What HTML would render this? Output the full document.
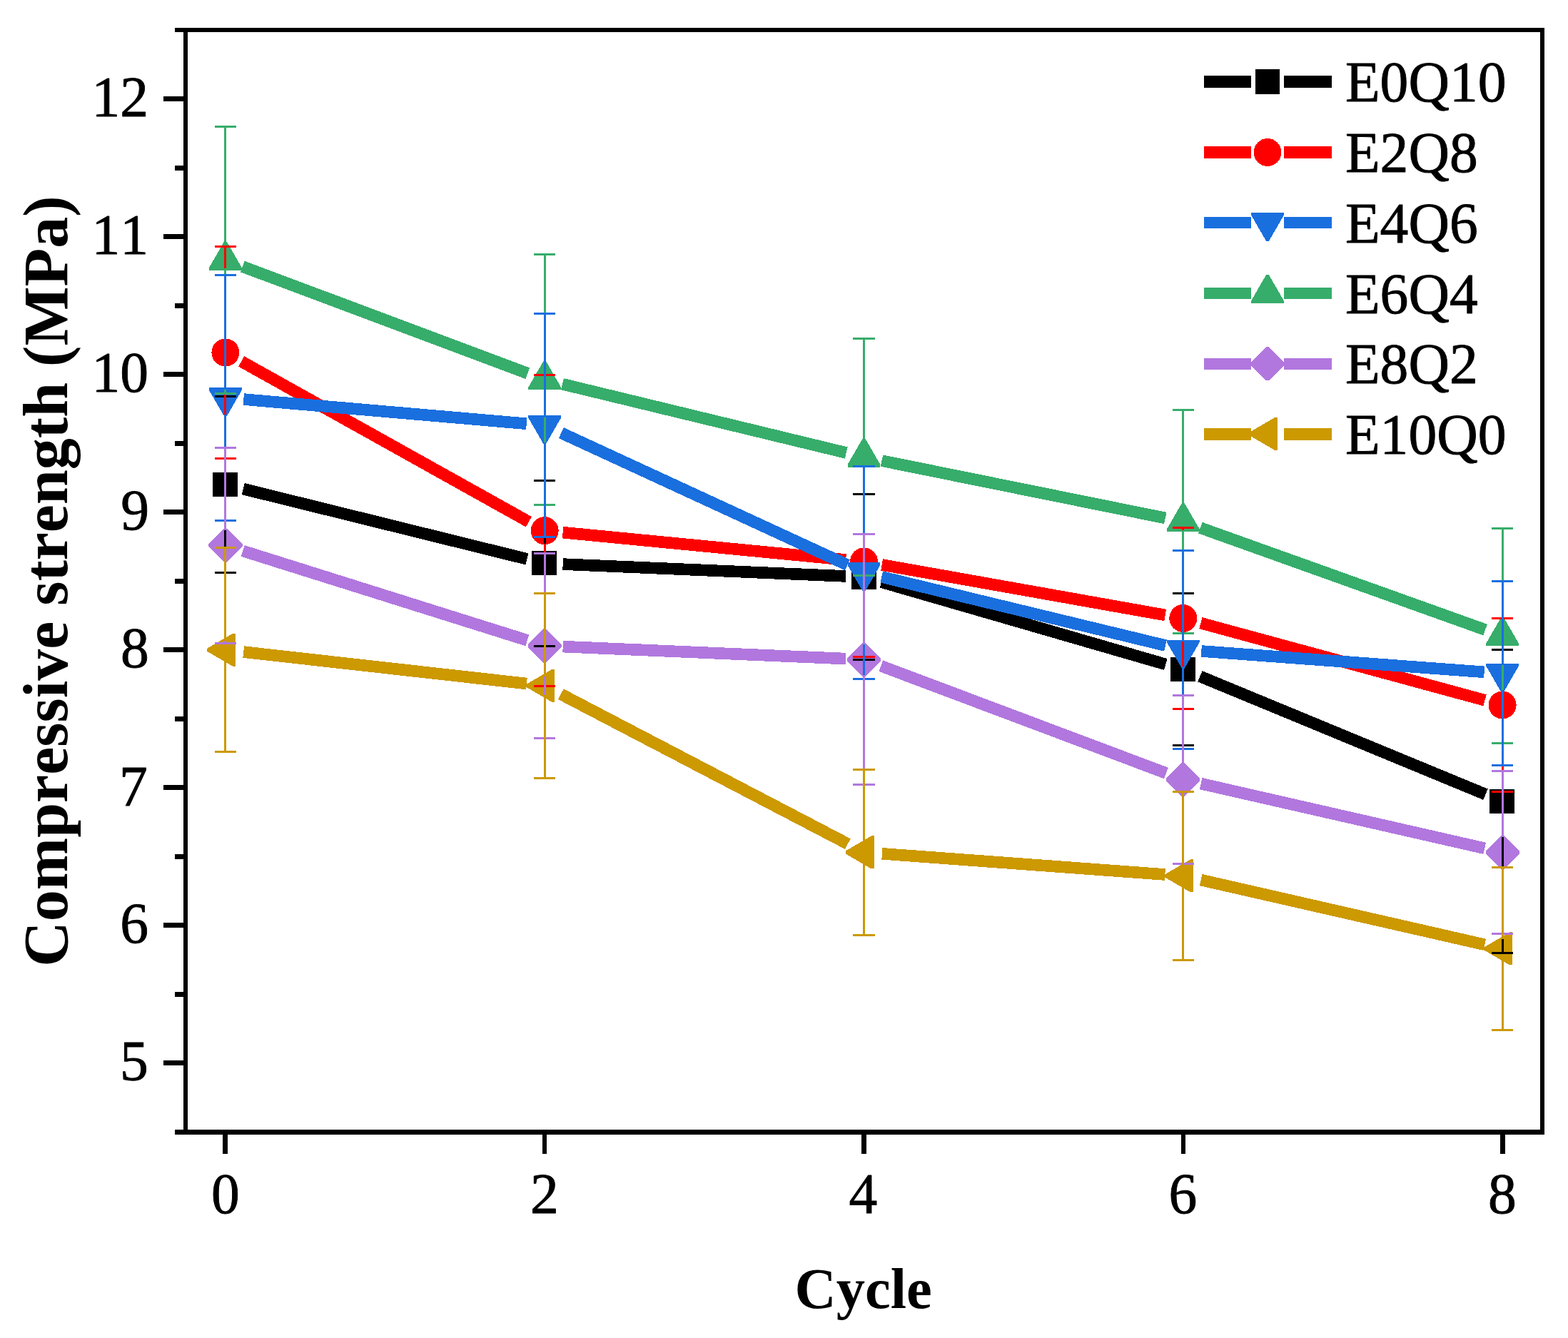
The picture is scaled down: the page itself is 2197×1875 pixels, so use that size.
<!DOCTYPE html>
<html lang="en"><head><meta charset="utf-8"><title>Compressive strength vs cycle</title>
<style>html,body{margin:0;padding:0;background:#fff}svg{display:block}text{font-family:"Liberation Serif","Times New Roman",Times,serif;fill:#000;font-kerning:none;font-variant-ligatures:none}.tk{font-size:80px}.lg{font-size:80px}.b{font-weight:bold}</style></head><body>
<svg width="2197" height="1875" viewBox="0 0 2197 1875">
<rect width="2197" height="1875" fill="#fff"/>
<g id="series" shape-rendering="crispEdges">
<g id="s-black">
<line x1="340.66" y1="685.07" x2="738.44" y2="783.38" stroke="#000000" stroke-width="16.6"/>
<line x1="788.68" y1="790.59" x2="1185.02" y2="807.46" stroke="#000000" stroke-width="16.6"/>
<line x1="1234.99" y1="815.64" x2="1633.31" y2="930.96" stroke="#000000" stroke-width="16.6"/>
<line x1="1681.37" y1="947.79" x2="2081.53" y2="1113.21" stroke="#000000" stroke-width="16.6"/>
<rect x="298" y="662" width="35" height="34" fill="#000000"/>
<rect x="745" y="772" width="35" height="34" fill="#000000"/>
<rect x="1193" y="792" width="35" height="34" fill="#000000"/>
<rect x="1640" y="921" width="35" height="34" fill="#000000"/>
<rect x="2087" y="1106" width="35" height="34" fill="#000000"/>
</g>
<g id="s-red">
<line x1="338.17" y1="506.43" x2="740.93" y2="731.27" stroke="#FF0000" stroke-width="16.6"/>
<line x1="788.58" y1="746.15" x2="1185.12" y2="784.5" stroke="#FF0000" stroke-width="16.6"/>
<line x1="1235.61" y1="791.41" x2="1632.69" y2="861.99" stroke="#FF0000" stroke-width="16.6"/>
<line x1="1682.41" y1="873.14" x2="2080.49" y2="981.31" stroke="#FF0000" stroke-width="16.6"/>
<circle cx="315.9" cy="494" r="19.5" fill="#FF0000"/>
<circle cx="763.2" cy="743.7" r="19.5" fill="#FF0000"/>
<circle cx="1210.5" cy="786.95" r="19.5" fill="#FF0000"/>
<circle cx="1657.8" cy="866.45" r="19.5" fill="#FF0000"/>
<circle cx="2105.1" cy="988" r="19.5" fill="#FF0000"/>
</g>
<g id="s-blue">
<line x1="341.31" y1="559.55" x2="737.79" y2="593.8" stroke="#1A6FDF" stroke-width="16.6"/>
<line x1="786.35" y1="606.68" x2="1187.35" y2="791.72" stroke="#1A6FDF" stroke-width="16.6"/>
<line x1="1235.29" y1="808.39" x2="1633.01" y2="904.56" stroke="#1A6FDF" stroke-width="16.6"/>
<line x1="1683.23" y1="912.44" x2="2079.67" y2="941.86" stroke="#1A6FDF" stroke-width="16.6"/>
<polygon points="314.05,583.35 317.75,583.35 338.7,547.05 338.7,543.35 293.1,543.35 293.1,547.05" fill="#1A6FDF"/>
<polygon points="761.35,622 765.05,622 786,585.7 786,582 740.4,582 740.4,585.7" fill="#1A6FDF"/>
<polygon points="1208.65,828.4 1212.35,828.4 1233.3,792.1 1233.3,788.4 1187.7,788.4 1187.7,792.1" fill="#1A6FDF"/>
<polygon points="1655.95,936.55 1659.65,936.55 1680.6,900.25 1680.6,896.55 1635,896.55 1635,900.25" fill="#1A6FDF"/>
<polygon points="2103.25,969.75 2106.95,969.75 2127.9,933.45 2127.9,929.75 2082.3,929.75 2082.3,933.45" fill="#1A6FDF"/>
</g>
<g id="s-green">
<line x1="339.78" y1="373.5" x2="739.32" y2="523.25" stroke="#37AD6B" stroke-width="16.6"/>
<line x1="787.98" y1="538.2" x2="1185.72" y2="634.55" stroke="#37AD6B" stroke-width="16.6"/>
<line x1="1235.49" y1="645.61" x2="1632.81" y2="725.99" stroke="#37AD6B" stroke-width="16.6"/>
<line x1="1681.81" y1="739.64" x2="2081.09" y2="882.56" stroke="#37AD6B" stroke-width="16.6"/>
<polygon points="314.05,338.55 317.75,338.55 338.7,374.85 338.7,378.55 293.1,378.55 293.1,374.85" fill="#37AD6B"/>
<polygon points="761.35,506.2 765.05,506.2 786,542.5 786,546.2 740.4,546.2 740.4,542.5" fill="#37AD6B"/>
<polygon points="1208.65,614.55 1212.35,614.55 1233.3,650.85 1233.3,654.55 1187.7,654.55 1187.7,650.85" fill="#37AD6B"/>
<polygon points="1655.95,705.05 1659.65,705.05 1680.6,741.35 1680.6,745.05 1635,745.05 1635,741.35" fill="#37AD6B"/>
<polygon points="2103.25,865.15 2106.95,865.15 2127.9,901.45 2127.9,905.15 2082.3,905.15 2082.3,901.45" fill="#37AD6B"/>
</g>
<g id="s-purple">
<line x1="340.23" y1="772" x2="738.87" y2="897.35" stroke="#B177DE" stroke-width="16.6"/>
<line x1="788.68" y1="906.09" x2="1185.02" y2="923.11" stroke="#B177DE" stroke-width="16.6"/>
<line x1="1234.37" y1="933.18" x2="1633.93" y2="1083.47" stroke="#B177DE" stroke-width="16.6"/>
<line x1="1682.66" y1="1098.12" x2="2080.24" y2="1188.83" stroke="#B177DE" stroke-width="16.6"/>
<polygon points="314.05,740.75 317.75,740.75 339.5,762.5 339.5,766.2 317.75,787.95 314.05,787.95 292.3,766.2 292.3,762.5" fill="#B177DE"/>
<polygon points="761.35,881.4 765.05,881.4 786.8,903.15 786.8,906.85 765.05,928.6 761.35,928.6 739.6,906.85 739.6,903.15" fill="#B177DE"/>
<polygon points="1208.65,900.6 1212.35,900.6 1234.1,922.35 1234.1,926.05 1212.35,947.8 1208.65,947.8 1186.9,926.05 1186.9,922.35" fill="#B177DE"/>
<polygon points="1655.95,1068.85 1659.65,1068.85 1681.4,1090.6 1681.4,1094.3 1659.65,1116.05 1655.95,1116.05 1634.2,1094.3 1634.2,1090.6" fill="#B177DE"/>
<polygon points="2103.25,1170.9 2106.95,1170.9 2128.7,1192.65 2128.7,1196.35 2106.95,1218.1 2103.25,1218.1 2081.5,1196.35 2081.5,1192.65" fill="#B177DE"/>
</g>
<g id="s-gold">
<line x1="341.24" y1="913.59" x2="737.86" y2="958.06" stroke="#CC9900" stroke-width="16.6"/>
<line x1="785.8" y1="972.7" x2="1187.9" y2="1182.65" stroke="#CC9900" stroke-width="16.6"/>
<line x1="1235.93" y1="1196.32" x2="1632.37" y2="1225.53" stroke="#CC9900" stroke-width="16.6"/>
<line x1="1682.66" y1="1233.07" x2="2080.24" y2="1323.78" stroke="#CC9900" stroke-width="16.6"/>
<polygon points="289.9,908.9 289.9,912.6 326.2,933.75 329.9,933.75 329.9,887.75 326.2,887.75" fill="#CC9900"/>
<polygon points="737.2,959.05 737.2,962.75 773.5,983.9 777.2,983.9 777.2,937.9 773.5,937.9" fill="#CC9900"/>
<polygon points="1184.5,1192.6 1184.5,1196.3 1220.8,1217.45 1224.5,1217.45 1224.5,1171.45 1220.8,1171.45" fill="#CC9900"/>
<polygon points="1631.8,1225.55 1631.8,1229.25 1668.1,1250.4 1671.8,1250.4 1671.8,1204.4 1668.1,1204.4" fill="#CC9900"/>
<polygon points="2079.1,1327.6 2079.1,1331.3 2115.4,1352.45 2119.1,1352.45 2119.1,1306.45 2115.4,1306.45" fill="#CC9900"/>
</g>
</g>
<g id="errors" shape-rendering="crispEdges">
<g id="e-black" fill="#000000">
<rect x="314" y="554" width="3" height="107.95"/>
<rect x="314" y="695.95" width="3" height="108.05"/>
<rect x="301" y="554" width="30" height="3"/>
<rect x="301" y="801" width="30" height="3"/>
<rect x="762" y="672" width="3" height="100.5"/>
<rect x="762" y="806.5" width="3" height="100.5"/>
<rect x="748" y="672" width="30" height="3"/>
<rect x="748" y="904" width="30" height="3"/>
<rect x="1209" y="691" width="3" height="100.55"/>
<rect x="1209" y="825.55" width="3" height="100.45"/>
<rect x="1195" y="691" width="31" height="3"/>
<rect x="1195" y="923" width="31" height="3"/>
<rect x="1656" y="830" width="3" height="91.05"/>
<rect x="1656" y="955.05" width="3" height="90.95"/>
<rect x="1643" y="830" width="30" height="3"/>
<rect x="1643" y="1043" width="30" height="3"/>
<rect x="2104" y="909" width="3" height="196.95"/>
<rect x="2104" y="1139.95" width="3" height="197.05"/>
<rect x="2090" y="909" width="30" height="3"/>
<rect x="2090" y="1334" width="30" height="3"/>
</g>
<g id="e-red" fill="#FF0000">
<rect x="314" y="344" width="3" height="131.5"/>
<rect x="314" y="512.5" width="3" height="131.5"/>
<rect x="301" y="344" width="30" height="3"/>
<rect x="301" y="641" width="30" height="3"/>
<rect x="762" y="524" width="3" height="201.2"/>
<rect x="762" y="762.2" width="3" height="200.8"/>
<rect x="748" y="524" width="30" height="3"/>
<rect x="748" y="960" width="30" height="3"/>
<rect x="1209" y="652" width="3" height="116.45"/>
<rect x="1209" y="805.45" width="3" height="116.55"/>
<rect x="1195" y="652" width="31" height="3"/>
<rect x="1195" y="919" width="31" height="3"/>
<rect x="1656" y="738" width="3" height="109.95"/>
<rect x="1656" y="884.95" width="3" height="110.05"/>
<rect x="1643" y="738" width="30" height="3"/>
<rect x="1643" y="992" width="30" height="3"/>
<rect x="2104" y="865" width="3" height="104.5"/>
<rect x="2104" y="1006.5" width="3" height="104.5"/>
<rect x="2090" y="865" width="30" height="3"/>
<rect x="2090" y="1108" width="30" height="3"/>
</g>
<g id="e-green" fill="#37AD6B">
<rect x="314" y="176" width="3" height="164.85"/>
<rect x="314" y="376.05" width="3" height="176.95"/>
<rect x="301" y="176" width="30" height="3"/>
<rect x="301" y="550" width="30" height="3"/>
<rect x="762" y="355" width="3" height="153.5"/>
<rect x="762" y="543.7" width="3" height="165.3"/>
<rect x="748" y="355" width="30" height="3"/>
<rect x="748" y="706" width="30" height="3"/>
<rect x="1209" y="473" width="3" height="143.85"/>
<rect x="1209" y="652.05" width="3" height="155.95"/>
<rect x="1195" y="473" width="31" height="3"/>
<rect x="1195" y="805" width="31" height="3"/>
<rect x="1656" y="573" width="3" height="134.35"/>
<rect x="1656" y="742.55" width="3" height="146.45"/>
<rect x="1643" y="573" width="30" height="3"/>
<rect x="1643" y="886" width="30" height="3"/>
<rect x="2104" y="739" width="3" height="128.45"/>
<rect x="2104" y="902.65" width="3" height="140.35"/>
<rect x="2090" y="739" width="30" height="3"/>
<rect x="2090" y="1040" width="30" height="3"/>
</g>
<g id="e-blue" fill="#1A6FDF">
<rect x="314" y="384" width="3" height="161.85"/>
<rect x="314" y="581.05" width="3" height="149.95"/>
<rect x="301" y="384" width="30" height="3"/>
<rect x="301" y="728" width="30" height="3"/>
<rect x="762" y="438" width="3" height="146.5"/>
<rect x="762" y="619.7" width="3" height="134.3"/>
<rect x="748" y="438" width="30" height="3"/>
<rect x="748" y="751" width="30" height="3"/>
<rect x="1209" y="652" width="3" height="138.9"/>
<rect x="1209" y="826.1" width="3" height="126.9"/>
<rect x="1195" y="652" width="31" height="3"/>
<rect x="1195" y="950" width="31" height="3"/>
<rect x="1656" y="770" width="3" height="129.05"/>
<rect x="1656" y="934.25" width="3" height="116.75"/>
<rect x="1643" y="770" width="30" height="3"/>
<rect x="1643" y="1048" width="30" height="3"/>
<rect x="2104" y="813" width="3" height="119.25"/>
<rect x="2104" y="967.45" width="3" height="106.55"/>
<rect x="2090" y="813" width="30" height="3"/>
<rect x="2090" y="1071" width="30" height="3"/>
</g>
<g id="e-purple" fill="#B177DE">
<rect x="314" y="626" width="3" height="116.85"/>
<rect x="314" y="785.85" width="3" height="117.15"/>
<rect x="301" y="626" width="30" height="3"/>
<rect x="301" y="900" width="30" height="3"/>
<rect x="762" y="774" width="3" height="109.5"/>
<rect x="762" y="926.5" width="3" height="109.5"/>
<rect x="748" y="774" width="30" height="3"/>
<rect x="748" y="1033" width="30" height="3"/>
<rect x="1209" y="747" width="3" height="155.7"/>
<rect x="1209" y="945.7" width="3" height="155.3"/>
<rect x="1195" y="747" width="31" height="3"/>
<rect x="1195" y="1098" width="31" height="3"/>
<rect x="1656" y="973" width="3" height="97.95"/>
<rect x="1656" y="1113.95" width="3" height="98.05"/>
<rect x="1643" y="973" width="30" height="3"/>
<rect x="1643" y="1209" width="30" height="3"/>
<rect x="2104" y="1079" width="3" height="94"/>
<rect x="2104" y="1216" width="3" height="94"/>
<rect x="2090" y="1079" width="30" height="3"/>
<rect x="2090" y="1307" width="30" height="3"/>
</g>
<g id="e-gold" fill="#CC9900">
<rect x="314" y="766" width="3" height="131.75"/>
<rect x="314" y="923.75" width="3" height="131.25"/>
<rect x="301" y="766" width="30" height="3"/>
<rect x="301" y="1052" width="30" height="3"/>
<rect x="762" y="830" width="3" height="117.9"/>
<rect x="762" y="973.9" width="3" height="118.1"/>
<rect x="748" y="830" width="30" height="3"/>
<rect x="748" y="1089" width="30" height="3"/>
<rect x="1209" y="1077" width="3" height="104.45"/>
<rect x="1209" y="1207.45" width="3" height="104.55"/>
<rect x="1195" y="1077" width="31" height="3"/>
<rect x="1195" y="1309" width="31" height="3"/>
<rect x="1656" y="1108" width="3" height="106.4"/>
<rect x="1656" y="1240.4" width="3" height="106.6"/>
<rect x="1643" y="1108" width="30" height="3"/>
<rect x="1643" y="1344" width="30" height="3"/>
<rect x="2104" y="1214" width="3" height="102.45"/>
<rect x="2104" y="1342.45" width="3" height="102.55"/>
<rect x="2090" y="1214" width="30" height="3"/>
<rect x="2090" y="1442" width="30" height="3"/>
</g>
</g>
<g id="axes" fill="#000" shape-rendering="crispEdges">
<rect x="245" y="39" width="1919" height="6"/>
<rect x="245" y="1583" width="1919" height="7"/>
<rect x="257" y="39" width="6" height="1551"/>
<rect x="2158" y="39" width="6" height="1551"/>
<rect x="229" y="1486" width="30" height="7"/>
<rect x="229" y="1293" width="30" height="7"/>
<rect x="229" y="1100" width="30" height="7"/>
<rect x="229" y="907" width="30" height="7"/>
<rect x="229" y="714" width="30" height="7"/>
<rect x="229" y="521" width="30" height="7"/>
<rect x="229" y="328" width="30" height="7"/>
<rect x="229" y="135" width="30" height="7"/>
<rect x="245" y="1390" width="14" height="7"/>
<rect x="245" y="1197" width="14" height="7"/>
<rect x="245" y="1004" width="14" height="7"/>
<rect x="245" y="811" width="14" height="7"/>
<rect x="245" y="618" width="14" height="7"/>
<rect x="245" y="425" width="14" height="7"/>
<rect x="245" y="232" width="14" height="7"/>
<rect x="312" y="1586" width="7" height="31"/>
<rect x="760" y="1586" width="6" height="31"/>
<rect x="1207" y="1586" width="7" height="31"/>
<rect x="1655" y="1586" width="6" height="31"/>
<rect x="2102" y="1586" width="7" height="31"/>
</g>
<g id="ylabels">
<text transform="translate(207.9,1514) scale(1,1.012)" font-size="79.6" text-anchor="end" stroke="#000" stroke-width="0.9" stroke-linejoin="round">5</text>
<text transform="translate(208,1321.06) scale(1,1.012)" font-size="79.6" text-anchor="end" stroke="#000" stroke-width="0.9" stroke-linejoin="round">6</text>
<text transform="translate(206.86,1129.04) scale(1,1.012)" font-size="79.6" text-anchor="end" stroke="#000" stroke-width="0.9" stroke-linejoin="round">7</text>
<text transform="translate(208.88,935.06) scale(1,1.012)" font-size="79.6" text-anchor="end" stroke="#000" stroke-width="0.9" stroke-linejoin="round">8</text>
<text transform="translate(209,742.06) scale(1,1.012)" font-size="79.6" text-anchor="end" stroke="#000" stroke-width="0.9" stroke-linejoin="round">9</text>
<text transform="translate(208,548.96) scale(1,1.012)" font-size="79.6" text-anchor="end" stroke="#000" stroke-width="0.9" stroke-linejoin="round">10</text>
<text transform="translate(208,356.1) scale(1,1.012)" font-size="79.6" text-anchor="end" stroke="#000" stroke-width="0.9" stroke-linejoin="round">11</text>
<text transform="translate(208,163) scale(1,1.012)" font-size="79.6" text-anchor="end" stroke="#000" stroke-width="0.9" stroke-linejoin="round">12</text>
</g>
<g id="xlabels">
<text transform="translate(316.02,1699.92) scale(1,1.012)" font-size="79.6" text-anchor="middle" stroke="#000" stroke-width="0.9" stroke-linejoin="round">0</text>
<text transform="translate(762.94,1699.92) scale(1,1.012)" font-size="79.6" text-anchor="middle" stroke="#000" stroke-width="0.9" stroke-linejoin="round">2</text>
<text transform="translate(1209.48,1700.04) scale(1,1.012)" font-size="79.6" text-anchor="middle" stroke="#000" stroke-width="0.9" stroke-linejoin="round">4</text>
<text transform="translate(1657.5,1699.92) scale(1,1.012)" font-size="79.6" text-anchor="middle" stroke="#000" stroke-width="0.9" stroke-linejoin="round">6</text>
<text transform="translate(2104.98,1699.92) scale(1,1.012)" font-size="79.6" text-anchor="middle" stroke="#000" stroke-width="0.9" stroke-linejoin="round">8</text>
</g>
<text id="xtitle" class="b" x="1209.7" y="1833" font-size="80.5" text-anchor="middle">Cycle</text>
<text id="ytitle" class="b" font-size="88" text-anchor="middle" transform="translate(94,814.6) rotate(-90)">Compressive strength (MPa)</text>
<g id="legend">
<g shape-rendering="crispEdges">
<rect x="1687" y="106" width="66" height="17" fill="#000000"/>
<rect x="1799" y="106" width="67" height="17" fill="#000000"/>
<rect x="1759" y="97" width="34" height="35" fill="#000000"/>
</g>
<text transform="translate(1885,142.03) scale(1,1.012)" font-size="79.6" text-anchor="start" stroke="#000" stroke-width="0.9" stroke-linejoin="round">E0Q10</text>
<g shape-rendering="crispEdges">
<rect x="1687" y="205" width="66" height="17" fill="#FF0000"/>
<rect x="1799" y="205" width="67" height="17" fill="#FF0000"/>
<circle cx="1776" cy="213.5" r="19.5" fill="#FF0000"/>
</g>
<text transform="translate(1885,240.86) scale(1,1.012)" font-size="79.6" text-anchor="start" stroke="#000" stroke-width="0.9" stroke-linejoin="round">E2Q8</text>
<g shape-rendering="crispEdges">
<rect x="1687" y="304" width="66" height="16" fill="#1A6FDF"/>
<rect x="1799" y="304" width="67" height="16" fill="#1A6FDF"/>
<polygon points="1774.15,338 1777.85,338 1798.8,301.7 1798.8,298 1753.2,298 1753.2,301.7" fill="#1A6FDF"/>
</g>
<text transform="translate(1885,339.69) scale(1,1.012)" font-size="79.6" text-anchor="start" stroke="#000" stroke-width="0.9" stroke-linejoin="round">E4Q6</text>
<g shape-rendering="crispEdges">
<rect x="1687" y="403" width="66" height="16" fill="#37AD6B"/>
<rect x="1799" y="403" width="67" height="16" fill="#37AD6B"/>
<polygon points="1774.15,385 1777.85,385 1798.8,421.3 1798.8,425 1753.2,425 1753.2,421.3" fill="#37AD6B"/>
</g>
<text transform="translate(1885,438.52) scale(1,1.012)" font-size="79.6" text-anchor="start" stroke="#000" stroke-width="0.9" stroke-linejoin="round">E6Q4</text>
<g shape-rendering="crispEdges">
<rect x="1687" y="502" width="66" height="16" fill="#B177DE"/>
<rect x="1799" y="502" width="67" height="16" fill="#B177DE"/>
<polygon points="1774.15,486 1777.85,486 1799.6,507.75 1799.6,511.45 1777.85,533.2 1774.15,533.2 1752.4,511.45 1752.4,507.75" fill="#B177DE"/>
</g>
<text transform="translate(1885,537.35) scale(1,1.012)" font-size="79.6" text-anchor="start" stroke="#000" stroke-width="0.9" stroke-linejoin="round">E8Q2</text>
<g shape-rendering="crispEdges">
<rect x="1687" y="600" width="66" height="17" fill="#CC9900"/>
<rect x="1799" y="600" width="67" height="17" fill="#CC9900"/>
<polygon points="1750,606.15 1750,609.85 1786.3,631 1790,631 1790,585 1786.3,585" fill="#CC9900"/>
</g>
<text transform="translate(1885,636.18) scale(1,1.012)" font-size="79.6" text-anchor="start" stroke="#000" stroke-width="0.9" stroke-linejoin="round">E10Q0</text>
</g>
</svg></body></html>
